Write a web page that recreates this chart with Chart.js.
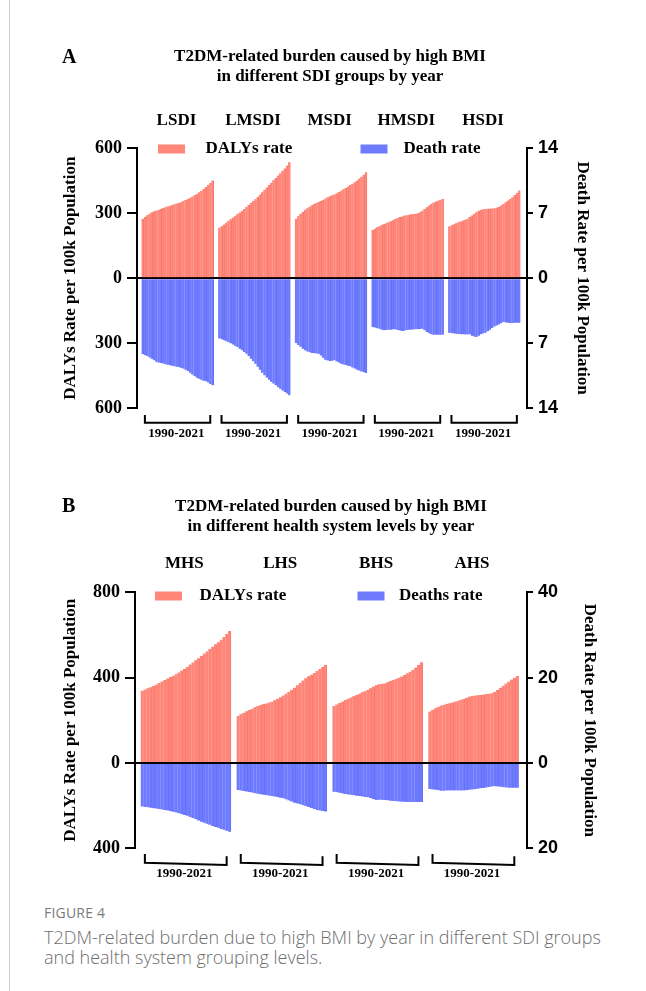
<!DOCTYPE html>
<html>
<head>
<meta charset="utf-8">
<script src="https://cdn.jsdelivr.net/npm/chart.js@4.4.1/dist/chart.umd.min.js"></script>
<style>
  body { margin: 0; background: #fff; width: 646px; height: 991px; position: relative; overflow: hidden; }
  #rule { position: absolute; left: 9px; top: 0; width: 1px; height: 991px; background: #cfcfcf; }
  canvas { position: absolute; left: 0; }
  #chartA { top: 0; }
  #chartB { top: 470px; }
  #caption { position: absolute; left: 44px; top: 903px; width: 596px; font-family: "Open Sans", sans-serif; color: #6e6e6e; }
  #caption .fig { font-size: 14px; line-height: 20px; color: #7a7a7a; letter-spacing: 0.2px; }
  #caption .txt { font-size: 18px; line-height: 20px; font-weight: 300; margin-top: 4px; }
</style>
</head>
<body>
<div id="rule"></div>
<canvas id="chartA" width="646" height="450"></canvas>
<canvas id="chartB" width="646" height="420"></canvas>
<div id="caption">
  <div class="fig">FIGURE 4</div>
  <div class="txt">T2DM-related burden due to high BMI by year in different SDI groups<br>and health system grouping levels.</div>
</div>
<script>
  const years = [];
  for (let y = 1990; y <= 2021; y++) years.push(String(y));

  // Panel A: SDI groups
  const sdiGroups = ["LSDI", "LMSDI", "MSDI", "HMSDI", "HSDI"];
  const lsdiDalys = [274, 283, 291, 298, 305, 309, 312, 316, 320, 324, 328, 331, 335, 338, 341, 345, 348, 351, 356, 361, 366, 371, 377, 383, 389, 397, 404, 412, 421, 430, 440, 451];
  const lmsdiDalys = [233, 240, 248, 256, 265, 272, 280, 288, 296, 303, 311, 320, 330, 339, 348, 357, 365, 375, 386, 397, 408, 419, 430, 441, 452, 463, 474, 485, 496, 507, 520, 535];
  const msdiDalys = [274, 286, 297, 307, 316, 323, 330, 337, 343, 347, 352, 357, 362, 368, 374, 379, 383, 387, 392, 398, 404, 411, 417, 423, 430, 436, 443, 451, 460, 468, 478, 489];
  const hmsdiDalys = [222, 229, 235, 240, 246, 250, 254, 258, 263, 268, 273, 278, 282, 285, 289, 291, 293, 295, 296, 298, 300, 305, 312, 320, 328, 336, 343, 349, 354, 358, 362, 366];
  const hsdiDalys = [239, 244, 249, 254, 258, 262, 266, 270, 274, 282, 290, 298, 305, 311, 316, 318, 320, 321, 322, 322, 323, 326, 330, 336, 343, 351, 359, 366, 374, 384, 394, 405];
  const lsdiDeaths = [8.2, 8.3, 8.4, 8.55, 8.7, 8.85, 9.0, 9.1, 9.15, 9.2, 9.28, 9.34, 9.4, 9.45, 9.5, 9.55, 9.6, 9.65, 9.75, 9.88, 10.0, 10.2, 10.4, 10.57, 10.73, 10.85, 10.95, 11.05, 11.12, 11.25, 11.4, 11.56];
  const lmsdiDeaths = [6.5, 6.6, 6.7, 6.8, 6.9, 7.03, 7.16, 7.3, 7.43, 7.6, 7.78, 7.96, 8.14, 8.4, 8.68, 8.95, 9.22, 9.55, 9.88, 10.2, 10.48, 10.72, 10.95, 11.17, 11.37, 11.56, 11.75, 11.93, 12.1, 12.28, 12.45, 12.63];
  const msdiDeaths = [7.0, 7.2, 7.4, 7.6, 7.78, 7.9, 8.0, 8.07, 8.1, 8.12, 8.14, 8.35, 8.58, 8.79, 8.88, 8.94, 8.9, 8.86, 8.98, 9.1, 9.22, 9.3, 9.37, 9.44, 9.51, 9.63, 9.75, 9.87, 9.97, 10.06, 10.15, 10.23];
  const hmsdiDeaths = [5.27, 5.33, 5.4, 5.45, 5.55, 5.63, 5.6, 5.56, 5.55, 5.53, 5.52, 5.58, 5.64, 5.7, 5.66, 5.6, 5.56, 5.55, 5.53, 5.52, 5.5, 5.48, 5.45, 5.62, 5.81, 5.95, 6.06, 6.09, 6.1, 6.1, 6.1, 6.1];
  const hsdiDeaths = [5.88, 5.93, 5.97, 6.0, 6.03, 6.06, 6.06, 6.07, 6.08, 6.06, 6.2, 6.3, 6.35, 6.2, 6.06, 5.97, 5.88, 5.72, 5.56, 5.38, 5.2, 5.1, 4.99, 4.86, 4.74, 4.78, 4.81, 4.84, 4.83, 4.82, 4.81, 4.8];

  // Panel B: health system levels
  const hsGroups = ["MHS", "LHS", "BHS", "AHS"];
  const mhsDalys = [339, 344, 350, 355, 361, 368, 375, 382, 389, 396, 403, 409, 416, 424, 433, 442, 451, 461, 471, 481, 491, 502, 513, 523, 534, 545, 556, 566, 577, 591, 605, 619];
  const lhsDalys = [220, 228, 235, 242, 248, 254, 261, 267, 272, 276, 279, 283, 287, 294, 301, 308, 316, 325, 334, 343, 353, 364, 375, 386, 397, 406, 414, 422, 431, 440, 450, 459];
  const bhsDalys = [267, 274, 281, 288, 295, 301, 307, 313, 319, 325, 331, 336, 342, 350, 358, 366, 369, 371, 373, 378, 384, 389, 394, 400, 405, 412, 420, 428, 436, 447, 459, 472];
  const ahsDalys = [241, 249, 256, 263, 269, 273, 277, 280, 284, 288, 292, 296, 300, 306, 311, 314, 316, 318, 319, 321, 323, 325, 327, 333, 342, 352, 362, 372, 381, 391, 400, 409];
  const mhsDeaths = [10.2, 10.3, 10.4, 10.5, 10.6, 10.7, 10.8, 10.9, 11.0, 11.15, 11.3, 11.45, 11.6, 11.8, 12.0, 12.2, 12.4, 12.65, 12.9, 13.2, 13.5, 13.75, 14.0, 14.25, 14.5, 14.75, 15.0, 15.2, 15.45, 15.65, 15.9, 16.1];
  const lhsDeaths = [6.33, 6.45, 6.58, 6.7, 6.83, 6.95, 7.08, 7.2, 7.35, 7.45, 7.55, 7.65, 7.74, 7.87, 8.0, 8.14, 8.28, 8.52, 8.78, 9.05, 9.3, 9.5, 9.7, 9.9, 10.08, 10.3, 10.55, 10.8, 11.0, 11.15, 11.28, 11.4];
  const bhsDeaths = [6.72, 6.86, 7.0, 7.14, 7.27, 7.37, 7.47, 7.57, 7.66, 7.76, 7.86, 7.96, 8.05, 8.25, 8.48, 8.68, 8.64, 8.6, 8.68, 8.76, 8.83, 8.89, 8.95, 9.01, 9.07, 9.1, 9.12, 9.14, 9.15, 9.15, 9.16, 9.15];
  const ahsDeaths = [6.1, 6.2, 6.3, 6.4, 6.49, 6.49, 6.47, 6.45, 6.45, 6.45, 6.46, 6.47, 6.45, 6.38, 6.3, 6.22, 6.15, 6.05, 5.95, 5.85, 5.75, 5.62, 5.52, 5.48, 5.5, 5.6, 5.68, 5.74, 5.78, 5.8, 5.8, 5.8];

  const dalyColor = "rgb(255,134,120)";
  const dalyEdge = "rgb(238,112,100)";
  const deathColor = "rgb(110,123,255)";
  const deathEdge = "rgb(92,104,238)";
  const serif = "'Liberation Serif', 'Times New Roman', serif";
  const sans = "'Liberation Sans', Arial, sans-serif";
  const periodLabel = years[0] + "-" + years[years.length - 1];

  // lay groups out on one category axis with empty slots between them
  function buildSlots(groups, dalys, deaths) {
    const labels = [], dalyData = [], deathData = [], spans = [];
    const pad = (n) => {
      for (let k = 0; k < n; k++) {
        labels.push("");
        dalyData.push(null);
        deathData.push(null);
      }
    };
    pad(2);
    groups.forEach((g, gi) => {
      if (gi) pad(2);
      const start = labels.length;
      years.forEach((yr, i) => {
        labels.push(g + " " + yr);
        dalyData.push(dalys[gi][i]);
        deathData.push(-deaths[gi][i]);
      });
      spans.push({ name: g, start: start, end: labels.length - 1 });
    });
    pad(3);
    return { labels, dalyData, deathData, spans };
  }

  const decor = {
    id: "decor",
    afterDraw(chart, args, o) {
      const ctx = chart.ctx;
      const area = chart.chartArea;
      ctx.save();
      ctx.fillStyle = "#000";
      ctx.textBaseline = "middle";

      ctx.font = "bold 20px " + serif;
      ctx.textAlign = "left";
      ctx.fillText(o.letter, 62, o.letterY);

      ctx.font = "bold 17px " + serif;
      ctx.textAlign = "center";
      o.title.forEach((t, i) => ctx.fillText(t, o.titleX, o.titleY[i]));

      // legend
      ctx.textAlign = "left";
      chart.data.datasets.forEach((ds, i) => {
        const bx = area.left + o.legendBox[i];
        ctx.fillStyle = ds.backgroundColor;
        ctx.fillRect(bx, o.legendY - 4.5, 27, 9);
        ctx.fillStyle = "#000";
        ctx.fillText(ds.label, area.left + o.legendText[i], o.legendY);
      });

      // year brackets under each group
      const xs = chart.scales.x;
      ctx.strokeStyle = "#000";
      ctx.lineWidth = 2;
      o.spans.forEach((s) => {
        const x1 = xs.getPixelForValue(s.start + 1);
        const x2 = xs.getPixelForValue(s.end - 1);
        const y1 = area.bottom + o.bracket[0];
        const y2 = area.bottom + o.bracket[1];
        ctx.beginPath();
        ctx.moveTo(x1, y1);
        ctx.lineTo(x1, y2);
        ctx.lineTo(x2, y2 + o.tilt);
        ctx.lineTo(x2, y1 + o.tilt);
        ctx.stroke();
      });
      ctx.restore();
    },
  };

  function makeChart(id, p) {
    const slots = buildSlots(p.groups, p.dalys, p.deaths);
    const centerIdx = {};
    slots.spans.forEach((s) => (centerIdx[s.start + 15] = s.name));

    new Chart(document.getElementById(id), {
      type: "bar",
      data: {
        labels: slots.labels,
        datasets: [
          { label: "DALYs rate", data: slots.dalyData, yAxisID: "y", backgroundColor: dalyColor, borderColor: dalyEdge },
          { label: p.deathLabel, data: slots.deathData, yAxisID: "y2", backgroundColor: deathColor, borderColor: deathEdge },
        ],
      },
      options: {
        responsive: false,
        animation: false,
        devicePixelRatio: 1,
        layout: { padding: { left: 0, right: 0, top: p.padTop, bottom: p.padBottom } },
        datasets: {
          bar: {
            grouped: false, barPercentage: 1, categoryPercentage: 1,
            borderSkipped: false,
            borderWidth: { left: 0, right: 0.6, top: 0, bottom: 0 },
          },
        },
        plugins: {
          legend: { display: false },
          tooltip: { enabled: false },
          decor: {
            letter: p.letter, letterY: p.letterY,
            title: p.title, titleX: p.titleX, titleY: p.titleY,
            legendY: p.legendY, legendBox: p.legendBox, legendText: p.legendText,
            spans: slots.spans, bracket: p.bracket, tilt: p.tilt,
          },
        },
        scales: {
          x: {
            position: "bottom",
            grid: { display: false, drawTicks: false },
            border: { display: false },
            ticks: {
              autoSkip: false, maxRotation: 0, padding: p.xPad,
              color: "#000", font: { family: serif, weight: "bold", size: 13 },
              callback: (v, i) => (centerIdx[i] ? periodLabel : ""),
            },
            afterFit: (s) => { s.height = 40; },
          },
          xTop: {
            type: "category",
            position: "top",
            grid: { display: false, drawTicks: false },
            border: { display: false },
            ticks: {
              autoSkip: false, maxRotation: 0, padding: p.topPad,
              color: "#000", font: { family: serif, weight: "bold", size: 17 },
              callback: (v, i) => centerIdx[i] || "",
            },
            afterFit: (s) => { s.height = 40; },
          },
          y: {
            position: "left",
            min: p.yMin, max: p.yMax,
            z: 1,
            ticks: {
              stepSize: p.yStep, padding: 5, color: "#000",
              font: { family: serif, weight: "bold", size: 18 },
              callback: (v) => Math.abs(v),
            },
            grid: {
              drawOnChartArea: true, lineWidth: 2, tickLength: 10, tickColor: "#000",
              color: (c) => (c.tick && c.tick.value === 0 ? "#000" : "rgba(0,0,0,0)"),
            },
            border: { color: "#000", width: 2 },
            title: {
              display: true, text: "DALYs Rate per 100k Population", color: "#000",
              font: { family: serif, weight: "bold", size: 17 },
              padding: { top: 60, bottom: 0 },
            },
            afterFit: (s) => { s.width = p.leftW; },
          },
          y2: {
            position: "right",
            min: p.y2Min, max: p.y2Max,
            z: 1,
            ticks: {
              stepSize: p.y2Step, padding: 5, color: "#000",
              font: { family: sans, weight: "bold", size: 18 },
              callback: (v) => Math.abs(v),
            },
            grid: { drawOnChartArea: false, lineWidth: 2, tickLength: 6, color: "#000" },
            border: { color: "#000", width: 2 },
            title: {
              display: true, text: "Death Rate per 100k Population", color: "#000",
              font: { family: serif, weight: "bold", size: 17 },
              padding: { top: p.rightTitlePad, bottom: 0 },
            },
            afterFit: (s) => { s.width = 119; },
          },
        },
      },
      plugins: [decor],
    });
  }

  makeChart("chartA", {
    groups: sdiGroups,
    dalys: [lsdiDalys, lmsdiDalys, msdiDalys, hmsdiDalys, hsdiDalys],
    deaths: [lsdiDeaths, lmsdiDeaths, msdiDeaths, hmsdiDeaths, hsdiDeaths],
    deathLabel: "Death rate",
    yMin: -600, yMax: 600, yStep: 300,
    y2Min: -14, y2Max: 14, y2Step: 7,
    padTop: 108.3, padBottom: 2, leftW: 137,
    topPad: 17, xPad: 17.5,
    rightTitlePad: 53,
    letter: "A", letterY: 58,
    title: ["T2DM-related burden caused by high BMI", "in different SDI groups by year"],
    titleX: 330, titleY: [57, 77],
    legendY: 149, legendBox: [21, 223.5], legendText: [68.5, 266.5],
    bracket: [7, 14.7], tilt: 0,
  });

  makeChart("chartB", {
    groups: hsGroups,
    dalys: [mhsDalys, lhsDalys, bhsDalys, ahsDalys],
    deaths: [mhsDeaths, lhsDeaths, bhsDeaths, ahsDeaths],
    deathLabel: "Deaths rate",
    yMin: -400, yMax: 800, yStep: 400,
    y2Min: -20, y2Max: 40, y2Step: 20,
    padTop: 82.3, padBottom: 1.7, leftW: 135,
    topPad: 18.5, xPad: 17.5,
    rightTitlePad: 46,
    letter: "B", letterY: 37,
    title: ["T2DM-related burden caused by high BMI", "in different health system levels by year"],
    titleX: 331, titleY: [37, 57],
    legendY: 126, legendBox: [20, 222.5], legendText: [64.5, 264],
    bracket: [5.7, 14.4], tilt: 2.3,
  });
</script>
</body>
</html>
